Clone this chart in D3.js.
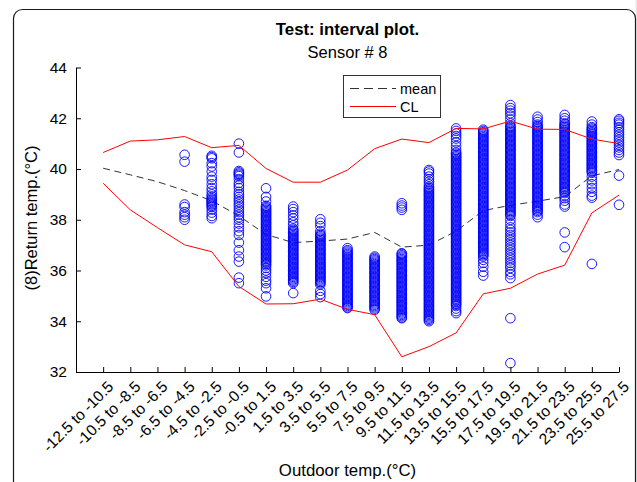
<!DOCTYPE html>
<html>
<head>
<meta charset="utf-8">
<script src="https://cdn.jsdelivr.net/npm/d3@7"></script>
<style>
  body { margin: 0; background: #fff; }
  svg text { font-family: "Liberation Sans", Arial, Helvetica, sans-serif; fill: #000; }
</style>
</head>
<body>
<svg id="chart" width="637" height="482"></svg>
<script>
// Outdoor temperature bins (x categories)
const binLabels = ["-12.5 to -10.5", "-10.5 to -8.5", "-8.5 to -6.5", "-6.5 to -4.5", "-4.5 to -2.5",
  "-2.5 to -0.5", "-0.5 to 1.5", "1.5 to 3.5", "3.5 to 5.5", "5.5 to 7.5", "7.5 to 9.5",
  "9.5 to 11.5", "11.5 to 13.5", "13.5 to 15.5", "15.5 to 17.5", "17.5 to 19.5",
  "19.5 to 21.5", "21.5 to 23.5", "23.5 to 25.5", "25.5 to 27.5"];

// Mean return temperature per bin and its confidence limits
const meanTemp = [40.03, 39.77, 39.5, 39.15, 38.75, 38.15, 37.42, 37.1, 37.16, 37.24,
  37.5, 36.92, 37.0, 37.55, 38.36, 38.57, 38.73, 38.91, 39.73, 39.98];
const upperCL = [40.65, 41.1, 41.15, 41.28, 40.84, 40.93, 40.02, 39.48, 39.48, 39.96,
  40.8, 41.18, 41.04, 41.6, 41.58, 41.89, 41.57, 41.56, 41.18, 41.0];
const lowerCL = [39.44, 38.39, 37.69, 37.01, 36.74, 35.37, 34.68, 34.69, 34.87, 34.47,
  34.26, 32.6, 33.0, 33.54, 35.08, 35.3, 35.86, 36.21, 38.27, 38.97];

const yTicks = [32, 34, 36, 38, 40, 42, 44];

// Return temperature readings, one list per bin
const pts01 = [];
const pts02 = [];
const pts03 = [];
const pts04 = [40.56, 40.29, 38.6, 38.5, 38.3, 38.2, 38.1, 38.0];
const pts05 = [40.52, 40.47, 40.42, 40.23, 40.1, 39.9, 39.7, 39.57, 39.4, 39.25, 39.12, 39.0,
  38.92, 38.85, 38.8, 38.75, 38.7, 38.65, 38.6, 38.55, 38.5, 38.4, 38.28, 38.15, 38.06];
const pts06 = [41.0, 40.65, 39.92, 39.87, 39.82, 39.77, 39.72, 39.6, 39.45, 39.35, 39.25, 39.1,
  39.0, 38.9, 38.8, 38.7, 38.6, 38.5, 38.4, 38.3, 38.2, 38.1, 38.0, 37.85, 37.7, 37.55, 37.4,
  37.1, 36.8, 36.55, 36.35, 35.72, 35.5];
const pts07 = [39.24, 38.9, 38.72, 38.55, 38.5, 38.45, 38.4, 38.35, 38.3, 38.25, 38.2, 38.15,
  38.1, 38.05, 38.0, 37.95, 37.9, 37.85, 37.8, 37.75, 37.7, 37.65, 37.6, 37.55, 37.5, 37.45,
  37.4, 37.35, 37.3, 37.25, 37.2, 37.15, 37.1, 37.05, 37.0, 36.95, 36.9, 36.85, 36.8, 36.75,
  36.7, 36.65, 36.6, 36.55, 36.5, 36.45, 36.4, 36.35, 36.3, 36.25, 36.2, 36.1, 36.0, 35.9,
  35.75, 35.6, 35.5, 35.3, 34.98];
const pts08 = [38.52, 38.42, 38.3, 38.17, 38.05, 37.9, 37.78, 37.65, 37.6, 37.55, 37.5, 37.45,
  37.4, 37.35, 37.3, 37.25, 37.2, 37.15, 37.1, 37.05, 37.0, 36.95, 36.9, 36.85, 36.8, 36.75,
  36.7, 36.65, 36.6, 36.55, 36.5, 36.45, 36.4, 36.35, 36.3, 36.25, 36.2, 36.15, 36.1, 36.05,
  36.0, 35.95, 35.9, 35.85, 35.8, 35.75, 35.7, 35.65, 35.6, 35.55, 35.5, 35.11];
const pts09 = [38.02, 37.88, 37.75, 37.55, 37.45, 37.4, 37.35, 37.3, 37.25, 37.2, 37.15, 37.1,
  37.05, 37.0, 36.95, 36.9, 36.85, 36.8, 36.75, 36.7, 36.65, 36.6, 36.55, 36.5, 36.45, 36.4,
  36.35, 36.3, 36.25, 36.2, 36.15, 36.1, 36.05, 36.0, 35.95, 35.9, 35.85, 35.8, 35.75, 35.7,
  35.65, 35.6, 35.55, 35.5, 35.45, 35.2, 35.07, 34.95];
const pts10 = [36.88, 36.8, 36.75, 36.7, 36.65, 36.6, 36.55, 36.5, 36.45, 36.4, 36.35, 36.3,
  36.25, 36.2, 36.15, 36.1, 36.05, 36.0, 35.95, 35.9, 35.85, 35.8, 35.75, 35.7, 35.65, 35.6,
  35.55, 35.5, 35.45, 35.4, 35.35, 35.3, 35.25, 35.2, 35.15, 35.1, 35.05, 35.0, 34.95, 34.9,
  34.85, 34.8, 34.75, 34.7, 34.65, 34.6, 34.55, 34.52];
const pts11 = [36.55, 36.5, 36.45, 36.4, 36.35, 36.3, 36.25, 36.2, 36.15, 36.1, 36.05, 36.0,
  35.95, 35.9, 35.85, 35.8, 35.75, 35.7, 35.65, 35.6, 35.55, 35.5, 35.45, 35.4, 35.35, 35.3,
  35.25, 35.2, 35.15, 35.1, 35.05, 35.0, 34.95, 34.9, 34.85, 34.8, 34.75, 34.7, 34.65, 34.6,
  34.55, 34.5, 34.45];
const pts12 = [38.65, 38.56, 38.48, 38.39, 36.68, 36.65, 36.6, 36.55, 36.5, 36.45, 36.4, 36.35,
  36.3, 36.25, 36.2, 36.15, 36.1, 36.05, 36.0, 35.95, 35.9, 35.85, 35.8, 35.75, 35.7, 35.65,
  35.6, 35.55, 35.5, 35.45, 35.4, 35.35, 35.3, 35.25, 35.2, 35.15, 35.1, 35.05, 35.0, 34.95,
  34.9, 34.85, 34.8, 34.75, 34.7, 34.65, 34.6, 34.55, 34.5, 34.45, 34.4, 34.35, 34.3, 34.25,
  34.2, 34.15, 34.12];
const pts13 = [39.96, 39.9, 39.82, 39.7, 39.6, 39.5, 39.4, 39.3, 39.25, 39.2, 39.15, 39.1, 39.05,
  39.0, 38.95, 38.9, 38.85, 38.8, 38.75, 38.7, 38.65, 38.6, 38.55, 38.5, 38.45, 38.4, 38.35,
  38.3, 38.25, 38.2, 38.15, 38.1, 38.05, 38.0, 37.95, 37.9, 37.85, 37.8, 37.75, 37.7, 37.65,
  37.6, 37.55, 37.5, 37.45, 37.4, 37.35, 37.3, 37.25, 37.2, 37.15, 37.1, 37.05, 37.0, 36.95,
  36.9, 36.85, 36.8, 36.75, 36.7, 36.65, 36.6, 36.55, 36.5, 36.45, 36.4, 36.35, 36.3, 36.25,
  36.2, 36.15, 36.1, 36.05, 36.0, 35.95, 35.9, 35.85, 35.8, 35.75, 35.7, 35.65, 35.6, 35.55,
  35.5, 35.45, 35.4, 35.35, 35.3, 35.25, 35.2, 35.15, 35.1, 35.05, 35.0, 34.95, 34.9, 34.85,
  34.8, 34.75, 34.7, 34.65, 34.6, 34.55, 34.5, 34.45, 34.4, 34.35, 34.3, 34.25, 34.2, 34.15,
  34.1, 34.05, 34.0];
const pts14 = [41.6, 41.5, 41.4, 41.3, 41.2, 41.05, 40.9, 40.75, 40.65, 40.6, 40.55, 40.5, 40.45,
  40.4, 40.35, 40.3, 40.25, 40.2, 40.15, 40.1, 40.05, 40.0, 39.95, 39.9, 39.85, 39.8, 39.75,
  39.7, 39.65, 39.6, 39.55, 39.5, 39.45, 39.4, 39.35, 39.3, 39.25, 39.2, 39.15, 39.1, 39.05,
  39.0, 38.95, 38.9, 38.85, 38.8, 38.75, 38.7, 38.65, 38.6, 38.55, 38.5, 38.45, 38.4, 38.35,
  38.3, 38.25, 38.2, 38.15, 38.1, 38.05, 38.0, 37.95, 37.9, 37.85, 37.8, 37.75, 37.7, 37.65,
  37.6, 37.55, 37.5, 37.45, 37.4, 37.35, 37.3, 37.25, 37.2, 37.15, 37.1, 37.05, 37.0, 36.95,
  36.9, 36.85, 36.8, 36.75, 36.7, 36.65, 36.6, 36.55, 36.5, 36.45, 36.4, 36.35, 36.3, 36.25,
  36.2, 36.15, 36.1, 36.05, 36.0, 35.95, 35.9, 35.85, 35.8, 35.75, 35.7, 35.65, 35.6, 35.55,
  35.5, 35.45, 35.4, 35.35, 35.3, 35.25, 35.2, 35.15, 35.1, 35.05, 35.0, 34.95, 34.9, 34.85,
  34.8, 34.75, 34.7, 34.65, 34.6, 34.5, 34.4, 34.32];
const pts15 = [41.55, 41.5, 41.45, 41.4, 41.35, 41.3, 41.25, 41.2, 41.15, 41.1, 41.05, 41.0,
  40.95, 40.9, 40.85, 40.8, 40.75, 40.7, 40.65, 40.6, 40.55, 40.5, 40.45, 40.4, 40.35, 40.3,
  40.25, 40.2, 40.15, 40.1, 40.05, 40.0, 39.95, 39.9, 39.85, 39.8, 39.75, 39.7, 39.65, 39.6,
  39.55, 39.5, 39.45, 39.4, 39.35, 39.3, 39.25, 39.2, 39.15, 39.1, 39.05, 39.0, 38.95, 38.9,
  38.85, 38.8, 38.75, 38.7, 38.65, 38.6, 38.55, 38.5, 38.45, 38.4, 38.35, 38.3, 38.25, 38.2,
  38.15, 38.1, 38.05, 38.0, 37.95, 37.9, 37.85, 37.8, 37.75, 37.7, 37.65, 37.6, 37.55, 37.5,
  37.45, 37.4, 37.35, 37.3, 37.25, 37.2, 37.15, 37.1, 37.05, 37.0, 36.95, 36.9, 36.85, 36.8,
  36.75, 36.7, 36.65, 36.6, 36.55, 36.42, 36.3, 36.15, 35.95, 35.8];
const pts16 = [42.52, 42.4, 42.3, 42.2, 42.1, 41.95, 41.8, 41.7, 41.65, 41.6, 41.55, 41.5,
  41.45, 41.4, 41.35, 41.3, 41.25, 41.2, 41.15, 41.1, 41.05, 41.0, 40.95, 40.9, 40.85, 40.8,
  40.75, 40.7, 40.65, 40.6, 40.55, 40.5, 40.45, 40.4, 40.35, 40.3, 40.25, 40.2, 40.15, 40.1,
  40.05, 40.0, 39.95, 39.9, 39.85, 39.8, 39.75, 39.7, 39.65, 39.6, 39.55, 39.5, 39.45, 39.4,
  39.35, 39.3, 39.25, 39.2, 39.15, 39.1, 39.05, 39.0, 38.95, 38.9, 38.85, 38.8, 38.75, 38.7,
  38.65, 38.6, 38.55, 38.5, 38.45, 38.4, 38.35, 38.3, 38.25, 38.2, 38.15, 38.0, 37.85, 37.7,
  37.6, 37.5, 37.4, 37.3, 37.2, 37.1, 37.0, 36.9, 36.8, 36.7, 36.6, 36.5, 36.4, 36.3, 36.2,
  36.1, 35.95, 35.85, 35.7, 34.12, 32.35];
const pts17 = [42.06, 41.95, 41.85, 41.75, 41.7, 41.65, 41.6, 41.55, 41.5, 41.45, 41.4, 41.35,
  41.3, 41.25, 41.2, 41.15, 41.1, 41.05, 41.0, 40.95, 40.9, 40.85, 40.8, 40.75, 40.7, 40.65,
  40.6, 40.55, 40.5, 40.45, 40.4, 40.35, 40.3, 40.25, 40.2, 40.15, 40.1, 40.05, 40.0, 39.95,
  39.9, 39.85, 39.8, 39.75, 39.7, 39.65, 39.6, 39.55, 39.5, 39.45, 39.4, 39.35, 39.3, 39.25,
  39.2, 39.15, 39.1, 39.05, 39.0, 38.95, 38.9, 38.85, 38.8, 38.75, 38.7, 38.65, 38.6, 38.55,
  38.5, 38.45, 38.4, 38.35, 38.3, 38.2, 38.1];
const pts18 = [42.13, 42.0, 41.9, 41.8, 41.75, 41.7, 41.65, 41.6, 41.55, 41.5, 41.45, 41.4,
  41.35, 41.3, 41.25, 41.2, 41.15, 41.1, 41.05, 41.0, 40.95, 40.9, 40.85, 40.8, 40.75, 40.7,
  40.65, 40.6, 40.55, 40.5, 40.45, 40.4, 40.35, 40.3, 40.25, 40.2, 40.15, 40.1, 40.05, 40.0,
  39.95, 39.9, 39.85, 39.8, 39.75, 39.7, 39.65, 39.6, 39.55, 39.5, 39.45, 39.4, 39.35, 39.3,
  39.25, 39.2, 39.15, 39.1, 39.05, 38.95, 38.85, 38.75, 38.6, 38.52, 37.5, 36.92];
const pts19 = [41.87, 41.75, 41.65, 41.6, 41.55, 41.5, 41.45, 41.4, 41.35, 41.3, 41.25, 41.2,
  41.15, 41.1, 41.05, 41.0, 40.95, 40.9, 40.85, 40.8, 40.75, 40.7, 40.65, 40.6, 40.55, 40.5,
  40.45, 40.4, 40.35, 40.3, 40.25, 40.2, 40.15, 40.1, 40.05, 40.0, 39.95, 39.9, 39.85, 39.7,
  39.55, 39.4, 39.25, 39.1, 38.95, 38.87, 36.26];
const pts20 = [41.96, 41.9, 41.82, 41.75, 41.65, 41.55, 41.45, 41.35, 41.25, 41.15, 41.05,
  40.95, 40.85, 40.75, 40.65, 40.55, 39.74, 38.59];

const readings = [pts01, pts02, pts03, pts04, pts05, pts06, pts07, pts08, pts09, pts10,
  pts11, pts12, pts13, pts14, pts15, pts16, pts17, pts18, pts19, pts20];

const svg = d3.select("#chart");

// figure window frame
svg.append("rect").attr("x", 635.5).attr("y", 0).attr("width", 2).attr("height", 482).attr("fill", "#e8e8e8");
svg.append("rect")
  .attr("x", 13.5).attr("y", 9.5).attr("width", 622).attr("height", 520)
  .attr("rx", 9).attr("fill", "#fff").attr("stroke", "#1a1a1a").attr("stroke-width", 1.2);

const x = d3.scaleLinear().domain([0, binLabels.length]).range([76, 619]);
const y = d3.scaleLinear().domain([32, 44]).range([372, 67.5]);

// titles
svg.append("text").attr("x", 347.5).attr("y", 35).attr("text-anchor", "middle")
  .style("font-size", "16.8px").style("font-weight", "bold").text("Test: interval plot.");
svg.append("text").attr("x", 347.5).attr("y", 58).attr("text-anchor", "middle")
  .style("font-size", "16.5px").text("Sensor # 8");

const plot = svg.append("g");

// mean line (dashed) under the readings
const line = d3.line().x((d, i) => x(i + 1)).y(d => y(d));
plot.append("path").datum(meanTemp).attr("d", line)
  .attr("fill", "none").attr("stroke", "#333").attr("stroke-width", 1)
  .attr("stroke-dasharray", "7,4.5");

// readings as open circles
const pts = [];
readings.forEach((arr, i) => arr.forEach(v => pts.push({ i: i + 1, v })));
plot.append("g").selectAll("circle").data(pts).join("circle")
  .attr("cx", d => x(d.i)).attr("cy", d => y(d.v)).attr("r", 4.8)
  .attr("fill", "none").attr("stroke", "#0000ff").attr("stroke-width", 0.9);

// confidence limits
[upperCL, lowerCL].forEach(arr => {
  plot.append("path").datum(arr).attr("d", line)
    .attr("fill", "none").attr("stroke", "#ff0000").attr("stroke-width", 1);
});

// axes
const xAxis = d3.axisBottom(x).tickValues(d3.range(1, binLabels.length + 1))
  .tickFormat(i => binLabels[i - 1]).tickSizeInner(-5).tickSizeOuter(0);
const gx = svg.append("g").attr("transform", "translate(0,372)").call(xAxis);
gx.select(".domain").attr("stroke", "#000");
gx.selectAll(".tick line").attr("stroke", "#000");
gx.selectAll(".tick text")
  .style("font-size", "15.5px")
  .attr("text-anchor", "end")
  .attr("dy", "0.7em")
  .attr("y", 0)
  .attr("transform", "translate(3,8) rotate(-45)");

const yAxis = d3.axisLeft(y).tickValues(yTicks).tickSizeInner(-5).tickSizeOuter(0).tickPadding(9);
const gy = svg.append("g").attr("transform", "translate(76,0)").call(yAxis);
gy.select(".domain").attr("stroke", "#000");
gy.selectAll(".tick line").attr("stroke", "#000");
gy.selectAll(".tick text").style("font-size", "15.5px");

// axis labels
svg.append("text").attr("x", 347.5).attr("y", 476).attr("text-anchor", "middle")
  .style("font-size", "16.8px").text("Outdoor temp.(°C)");
svg.append("text").attr("transform", "translate(37,218) rotate(-90)").attr("text-anchor", "middle")
  .style("font-size", "16.5px").text("(8)Return temp.(°C)");

// legend
const lg = svg.append("g");
lg.append("rect").attr("x", 343.5).attr("y", 75.5).attr("width", 97).attr("height", 42)
  .attr("fill", "#fff").attr("stroke", "#333").attr("stroke-width", 1);
lg.append("line").attr("x1", 350).attr("x2", 396).attr("y1", 88.5).attr("y2", 88.5)
  .attr("stroke", "#333").attr("stroke-dasharray", "9,5");
lg.append("text").attr("x", 400).attr("y", 93.5).style("font-size", "14.5px").text("mean");
lg.append("line").attr("x1", 350).attr("x2", 396).attr("y1", 106.5).attr("y2", 106.5)
  .attr("stroke", "#ff0000");
lg.append("text").attr("x", 400).attr("y", 111.5).style("font-size", "14.5px").text("CL");
</script>
</body>
</html>
